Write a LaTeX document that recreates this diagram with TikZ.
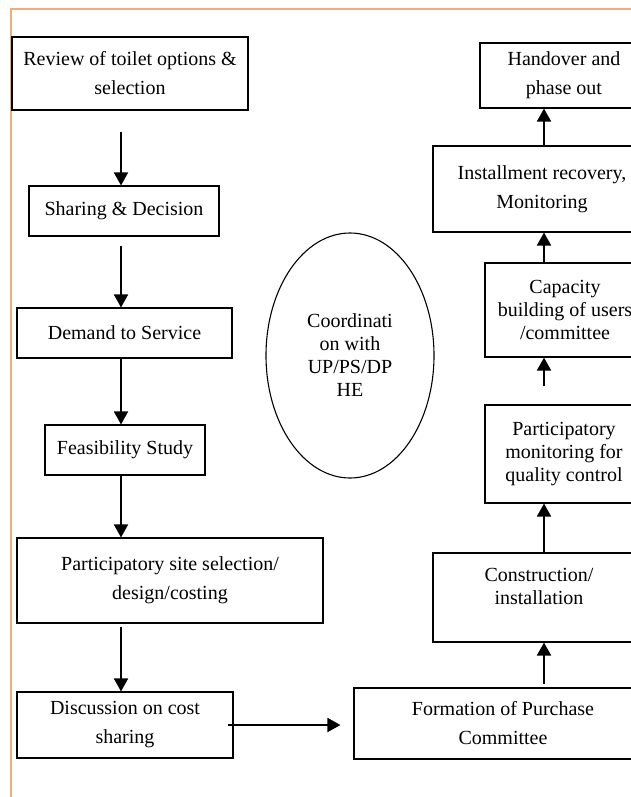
\documentclass[tikz,border=0pt]{standalone}
\usepackage{fontspec}
\setmainfont{Liberation Serif}
\usetikzlibrary{arrows.meta,shapes.geometric}
\definecolor{pageline}{RGB}{242,172,124}
\tikzset{
    box/.style={draw, line width=1.1pt, inner sep=0pt, align=center,
        font=\fontsize{20}{29}\selectfont},
    tightbox/.style={box, font=\fontsize{20}{23}\selectfont},
    arr/.style={line width=1.8pt, -{Triangle[length=13pt,width=14pt]}},
}

\begin{document}
\begin{tikzpicture}[x=1pt,y=-1pt]
\useasboundingbox (0,0) rectangle (631,797);
\clip (0,0) rectangle (631,797);
% page frame
\draw[pageline, line width=1.3pt] (631,9) -- (11,9) -- (11,797);
% left column
\node[box, minimum width=236, minimum height=73] (review) at (130,73.5) {Review of toilet options \&\\selection};
\node[box, minimum width=190, minimum height=50] (sharing) at (124,211) {Sharing \& Decision};
\node[box, minimum width=215, minimum height=50] (demand) at (124.5,333) {Demand to Service};
\node[box, minimum width=160, minimum height=50] (feas) at (125,450) {Feasibility Study};
\node[box, minimum width=306, minimum height=85] (site) at (170,580.5) {Participatory site selection/\\design/costing};
\node[box, minimum width=216, minimum height=66] (discuss) at (125,725) {Discussion on cost\\sharing};
% right column
\node[box, minimum width=298, minimum height=71] (purchase) at (503,723.5) {Formation of Purchase\\Committee};
\node[tightbox, minimum width=212, minimum height=89] (construct) at (539,597.5) {Construction/\\installation\\\mbox{}};
\node[tightbox, minimum width=158, minimum height=98] (monitor) at (564,454) {Participatory\\monitoring for\\quality control};
\node[tightbox, minimum width=160, minimum height=94] (capacity) at (565,310) {Capacity\\building of users\\/committee};
\node[box, minimum width=218, minimum height=86] (recovery) at (542,189) {Installment recovery,\\Monitoring};
\node[box, minimum width=168, minimum height=65] (handover) at (564,75.5) {Handover and\\phase out};
% coordination
\node[tightbox, ellipse, minimum width=168, minimum height=245] (coord) at (350,355.5) {Coordinati\\on with\\UP/PS/DP\\HE};
\coordinate (lcol) at (121,0);
\coordinate (rcol) at (544,0);
% arrows down
\draw[arr, shorten <=21pt] (review.south -| lcol) -- (sharing.north -| lcol);
\draw[arr, shorten <=9pt] (sharing.south -| lcol) -- (demand.north -| lcol);
\draw[arr] (demand.south -| lcol) -- (feas.north -| lcol);
\draw[arr] (feas.south -| lcol) -- (site.north -| lcol);
\draw[arr, shorten <=3pt] (site.south -| lcol) -- (discuss.north -| lcol);
\draw[arr, shorten >=13pt] ([xshift=-6pt]discuss.east) -- (discuss.east -| purchase.west);
% arrows up
\draw[arr, shorten <=3pt] (purchase.north -| rcol) -- (construct.south -| rcol);
\draw[arr] (construct.north -| rcol) -- (monitor.south -| rcol);
\draw[arr, shorten <=18pt] (monitor.north -| rcol) -- (capacity.south -| rcol);
\draw[arr] (capacity.north -| rcol) -- (recovery.south -| rcol);
\draw[arr] (recovery.north -| rcol) -- (handover.south -| rcol);
\end{tikzpicture}
\end{document}
